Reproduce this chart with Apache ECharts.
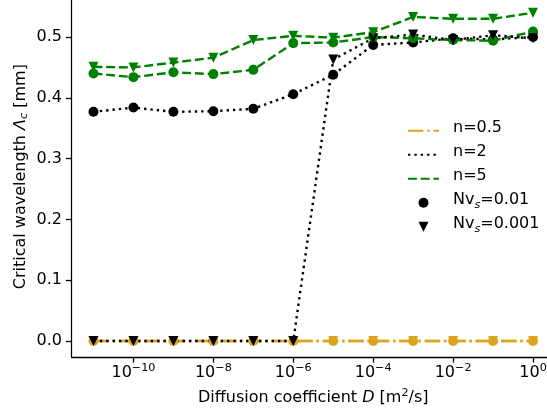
<!DOCTYPE html>
<html><head><meta charset="utf-8">
<script src="https://cdn.jsdelivr.net/npm/echarts@6/dist/echarts.min.js"></script>
<style>html,body{margin:0;padding:0;background:#fff}#c{width:547px;height:416px}</style>
</head><body><div id="c"></div>
<script>
// Diffusion coefficient D [m^2/s]
const D = [1e-11, 1e-10, 1e-9, 1e-8, 1e-7, 1e-6, 1e-5, 1e-4, 1e-3, 1e-2, 1e-1, 1e0];
// Critical wavelength [mm]
const n05_Nv001  = [0, 0, 0, 0, 0, 0, 0, 0, 0, 0, 0, 0];
const n05_Nv0001 = [0, 0, 0, 0, 0, 0, 0, 0, 0, 0, 0, 0];
const n2_Nv001   = [0.377, 0.384, 0.377, 0.378, 0.382, 0.406, 0.438, 0.487, 0.491, 0.498, 0.496, 0.500];
const n2_Nv0001  = [0, 0, 0, 0, 0, 0, 0.463, 0.498, 0.504, 0.495, 0.503, 0.498];
const n5_Nv001   = [0.440, 0.434, 0.442, 0.439, 0.446, 0.490, 0.491, 0.500, 0.498, 0.495, 0.494, 0.509];
const n5_Nv0001  = [0.451, 0.450, 0.458, 0.466, 0.495, 0.502, 0.499, 0.508, 0.533, 0.530, 0.530, 0.540];
const xTicks = [1e-10, 1e-8, 1e-6, 1e-4, 1e-2, 1e0];
const yTicks = [0, 0.1, 0.2, 0.3, 0.4, 0.5];
const legendNames = ['n=0.5', 'n=2', 'n=5', 'Nv_s=0.01', 'Nv_s=0.001'];

const FONT = 'DejaVu Sans';
const C_GOLD = '#DAA520', C_BLACK = '#000000', C_GREEN = '#008000';
const LW = 2.4;
const DASHDOT = [15.4, 3.84, 2.4, 3.84];
const DOTTED = [2.4, 3.96];
const DASHED = [8.9, 3.84];
const TRI = 'path://M0,0L10,0L5,10Z';

function pairs(ys) { return D.map((d, i) => [d, ys[i]]); }
function dataSeries(name, ys, color, dash, symbol) {
  return {
    type: 'line', name: name, data: pairs(ys),
    symbol: symbol, symbolSize: 10, symbolKeepAspect: true, showSymbol: true,
    lineStyle: { color: color, width: LW, type: dash, cap: 'butt' },
    itemStyle: { color: color, borderWidth: 0 },
    emphasis: { disabled: true }, animation: false, z: 2
  };
}
function legendLineSeries(name, color, dash) {
  return {
    type: 'line', name: name, data: [], symbol: 'none',
    lineStyle: { color: color, width: LW, type: dash },
    itemStyle: { color: color, opacity: 0 }, animation: false
  };
}
function legendMarkerSeries(name, color, symbol) {
  return {
    type: 'line', name: name, data: [], symbol: symbol,
    lineStyle: { color: color, width: 0, opacity: 0 },
    itemStyle: { color: color }, animation: false
  };
}

const chart = echarts.init(document.getElementById('c'), null, { renderer: 'canvas' });
const option = {
  backgroundColor: '#ffffff',
  animation: false,
  textStyle: { fontFamily: FONT },
  grid: { left: 71.5, width: 483.5, bottom: 59, height: 360.7, containLabel: false, outerBoundsMode: 'none' },
  xAxis: {
    type: 'log', logBase: 10,
    min: Math.pow(10, -11.55), max: Math.pow(10, 0.55),
    axisLine: { show: true, onZero: false, lineStyle: { color: '#000', width: 1.28 } },
    axisTick: { show: true, inside: false, length: 5.6, lineStyle: { color: '#000', width: 1.28 }, customValues: xTicks },
    minorTick: { show: false },
    splitLine: { show: false },
    axisLabel: {
      customValues: xTicks, margin: 8, color: '#000', hideOverlap: false,
      formatter: function (v) {
        const e = Math.round(Math.log10(v));
        const s = e < 0 ? '\u2212' + (-e) : String(e);
        return '{b|10}{s|' + s + '}';
      },
      rich: {
        b: { fontFamily: FONT, fontSize: 16, lineHeight: 16, color: '#000', verticalAlign: 'bottom' },
        s: { fontFamily: FONT, fontSize: 11.2, lineHeight: 12, color: '#000', padding: [0, 0, 7, 0], verticalAlign: 'bottom' }
      }
    },
    name: 'Diffusion coefficient {i|D} [m{s|2}/s]',
    nameLocation: 'middle', nameGap: 33, nameMoveOverlap: false,
    nameTextStyle: {
      fontFamily: FONT, fontSize: 16, color: '#000',
      rich: {
        i: { fontFamily: FONT, fontSize: 16, fontStyle: 'italic', color: '#000', verticalAlign: 'bottom', lineHeight: 16 },
        s: { fontFamily: FONT, fontSize: 11.2, lineHeight: 12, color: '#000', padding: [0, 0, 7, 0], verticalAlign: 'bottom' }
      }
    }
  },
  yAxis: {
    type: 'value', min: -0.0263, max: 0.567,
    axisLine: { show: true, onZero: false, lineStyle: { color: '#000', width: 1.28 } },
    axisTick: { show: true, inside: false, length: 5.6, lineStyle: { color: '#000', width: 1.28 }, customValues: yTicks },
    splitLine: { show: false },
    axisLabel: {
      customValues: yTicks, margin: 9.5, color: '#000', fontFamily: FONT, fontSize: 16,
      formatter: function (v) { return v.toFixed(1); }
    },
    name: 'Critical wavelength {i|\u039B}{c|c} [mm]',
    nameLocation: 'middle', nameGap: 42, nameMoveOverlap: false,
    nameTextStyle: {
      fontFamily: FONT, fontSize: 16, color: '#000',
      rich: {
        i: { fontFamily: FONT, fontSize: 16, fontStyle: 'italic', color: '#000' },
        c: { fontFamily: FONT, fontSize: 11.2, fontStyle: 'italic', color: '#000', padding: [6, 0, 0, 0] }
      }
    }
  },
  legend: {
    orient: 'vertical', left: 407, top: 116.7, padding: 0,
    itemWidth: 31, itemHeight: 10, itemGap: 2,
    selectedMode: false, symbolKeepAspect: true,
    data: [
      { name: legendNames[0], itemStyle: { opacity: 0 } },
      { name: legendNames[1], itemStyle: { opacity: 0 } },
      { name: legendNames[2], itemStyle: { opacity: 0 } },
      { name: legendNames[3], icon: 'circle' },
      { name: legendNames[4], icon: TRI }
    ],
    formatter: function (name) {
      if (name.indexOf('Nv_s') === 0) return '{a|Nv}{s|s}{a|' + name.slice(4) + '}';
      return '{a|' + name + '}';
    },
    textStyle: {
      fontFamily: FONT, fontSize: 16, color: '#000', padding: [0, 0, 0, 9],
      rich: {
        a: { fontFamily: FONT, fontSize: 16, lineHeight: 16, color: '#000', padding: [3, 0, 3, 0], verticalAlign: 'bottom' },
        s: { fontFamily: FONT, fontSize: 11.2, lineHeight: 12, fontStyle: 'italic', color: '#000', padding: [7, 0, 0, 0], verticalAlign: 'bottom' }
      }
    }
  },
  series: [
    legendLineSeries(legendNames[0], C_GOLD, DASHDOT),
    legendLineSeries(legendNames[1], C_BLACK, DOTTED),
    legendLineSeries(legendNames[2], C_GREEN, DASHED),
    legendMarkerSeries(legendNames[3], C_BLACK, 'circle'),
    legendMarkerSeries(legendNames[4], C_BLACK, TRI),
    dataSeries('n05_Nv001', n05_Nv001, C_GOLD, DASHDOT, 'circle'),
    dataSeries('n2_Nv001', n2_Nv001, C_BLACK, DOTTED, 'circle'),
    dataSeries('n5_Nv001', n5_Nv001, C_GREEN, DASHED, 'circle'),
    dataSeries('n05_Nv0001', n05_Nv0001, C_GOLD, DASHDOT, TRI),
    dataSeries('n2_Nv0001', n2_Nv0001, C_BLACK, DOTTED, TRI),
    dataSeries('n5_Nv0001', n5_Nv0001, C_GREEN, DASHED, TRI)
  ]
};
chart.setOption(option);
</script>
</body></html>
